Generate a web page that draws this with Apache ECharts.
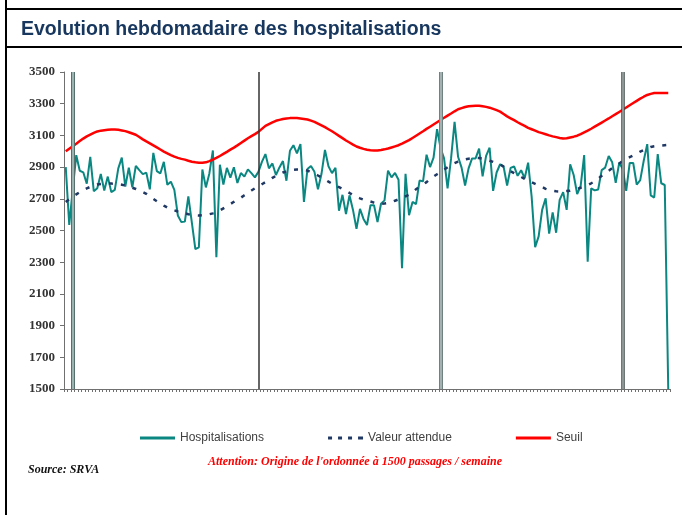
<!DOCTYPE html>
<html>
<head>
<meta charset="utf-8">
<script src="https://cdn.jsdelivr.net/npm/echarts@6/dist/echarts.min.js"></script>
<style>
  html, body { margin: 0; padding: 0; background: #fff; }
  #chart { width: 682px; height: 515px; }
</style>
</head>
<body>
<div id="chart"></div>
<script>
// Weekly values, first point = week 51 of 2008
var hospitalisations = [
  2900, 2535, 2760, 2975, 2877, 2867, 2795, 2965, 2748, 2767,
  2856, 2752, 2840, 2742, 2756, 2892, 2960, 2777, 2896, 2773,
  2908, 2881, 2856, 2865, 2760, 2990, 2875, 2860, 2933, 2788,
  2808, 2756, 2595, 2553, 2556, 2715, 2550, 2383, 2394, 2885,
  2772, 2860, 3005, 2332, 2915, 2790, 2895, 2834, 2899, 2800,
  2863, 2840, 2886, 2862, 2835, 2870, 2933, 2982, 2892, 2923,
  2850, 2898, 2938, 2814, 3003, 3038, 2986, 3045, 2680, 2888,
  2907, 2870, 2760, 2856, 3008, 2905, 2862, 2895, 2625, 2725,
  2604, 2722, 2630, 2510, 2636, 2573, 2535, 2660, 2660, 2554,
  2669, 2690, 2878, 2835, 2863, 2820, 2262, 2858, 2596, 2680,
  2667, 2815, 2810, 2978, 2900, 2960, 3140, 3020, 2955, 2766,
  2955, 3185, 2965, 2897, 2784, 2892, 2955, 2955, 3017, 2842,
  2971, 3022, 2750, 2866, 2918, 2902, 2784, 2895, 2904, 2845,
  2880, 2830, 2928, 2714, 2395, 2463, 2630, 2703, 2480, 2614,
  2486, 2693, 2742, 2630, 2918, 2850, 2730, 2782, 2976, 2303,
  2766, 2753, 2759, 2881, 2897, 2970, 2930, 2800, 2926, 2890,
  2750, 2926, 2926, 2790, 2818, 2940, 3045, 2722, 2708, 2982,
  2798, 2787, 1500
];

var valeurAttendue = [
  2680, 2697, 2714, 2728, 2742, 2755, 2766, 2775, 2783, 2790,
  2794, 2796, 2797, 2796, 2795, 2792, 2789, 2784, 2778, 2770,
  2762, 2752, 2742, 2731, 2716, 2700, 2685, 2670, 2657, 2645,
  2635, 2627, 2620, 2614, 2609, 2603, 2598, 2595, 2594, 2596,
  2599, 2603, 2608, 2614, 2627, 2640, 2653, 2667, 2681, 2694,
  2707, 2722, 2737, 2752, 2766, 2780, 2792, 2805, 2818, 2832,
  2845, 2856, 2866, 2872, 2878, 2883, 2885, 2885, 2884, 2878,
  2867, 2858, 2847, 2835, 2821, 2808, 2795, 2784, 2773, 2762,
  2750, 2737, 2723, 2712, 2703, 2695, 2689, 2683, 2676, 2670,
  2669, 2670, 2673, 2680, 2688, 2696, 2705, 2716, 2727, 2743,
  2760, 2776, 2790, 2805, 2825, 2840, 2855, 2868, 2884, 2899,
  2914, 2925, 2935, 2943, 2948, 2953, 2956, 2958, 2957, 2953,
  2947, 2940, 2933, 2925, 2917, 2903, 2888, 2874, 2862, 2850,
  2838, 2826, 2815, 2804, 2794, 2784, 2774, 2763, 2755, 2750,
  2747, 2746, 2747, 2749, 2751, 2757, 2763, 2770, 2777, 2787,
  2798, 2810, 2827, 2845, 2862, 2877, 2893, 2908, 2923, 2938,
  2952, 2963, 2974, 2986, 2998, 3008, 3018, 3027, 3031, 3034,
  3036, 3038, 3040
];

var seuil = [
  3000, 3016, 3032, 3048, 3064, 3080, 3094, 3105, 3116, 3125,
  3130, 3133, 3135, 3137, 3137, 3135, 3131, 3127, 3120, 3112,
  3104, 3090, 3075, 3062, 3050, 3037, 3024, 3011, 2998, 2987,
  2976, 2966, 2958, 2952, 2947, 2940, 2934, 2930, 2928, 2928,
  2930, 2938, 2947, 2958, 2970, 2983, 2996, 3010, 3023, 3037,
  3052, 3067, 3082, 3095, 3108, 3122, 3141, 3160, 3171, 3182,
  3192, 3198, 3203, 3207, 3209, 3210, 3210, 3207, 3204, 3200,
  3193, 3185, 3174, 3163, 3152, 3139, 3126, 3112, 3097, 3083,
  3068, 3055, 3042, 3030, 3022, 3015, 3010, 3007, 3005, 3005,
  3008, 3012, 3017, 3024, 3031, 3038, 3048, 3059, 3070, 3084,
  3098, 3112, 3126, 3141, 3155, 3169, 3183, 3197, 3211, 3225,
  3238, 3252, 3265, 3272, 3279, 3284, 3286, 3287, 3287, 3284,
  3280, 3275, 3267, 3259, 3250, 3235, 3220, 3208, 3196, 3183,
  3171, 3160, 3148, 3139, 3130, 3121, 3114, 3107, 3100, 3094,
  3089, 3084, 3080, 3082, 3087, 3092, 3098, 3108, 3119, 3130,
  3142, 3155, 3168, 3181, 3194, 3207, 3221, 3234, 3248, 3262,
  3276, 3290, 3304, 3318, 3332, 3344, 3355, 3362, 3367, 3368,
  3368, 3368, 3368
];

// Week 1 of each new year (index in the weekly series)
var yearStartIdx = [2, 55, 107, 159];
var weeksInYear = {2008: 52, 2009: 53, 2010: 52, 2011: 52, 2012: 52};

// Category labels S51-2008 ... (not shown on the axis)
var weeks = [];
var yr = 2008, wk = 51;
for (var i = 0; i < hospitalisations.length; i++) {
  weeks.push('S' + wk + '-' + yr);
  wk++;
  if (wk > weeksInYear[yr]) { wk = 1; yr++; }
}

var chart = echarts.init(document.getElementById('chart'));

chart.setOption({
  animation: false,
  title: [
    {
      text: 'Evolution hebdomadaire des hospitalisations',
      left: 21,
      top: 20,
      padding: 0,
      textStyle: {fontFamily: 'Liberation Sans', fontWeight: 'bold', fontSize: 19.5, color: '#17375e'}
    },
    {
      text: "Attention: Origine de l'ordonnée à 1500 passages / semaine",
      left: 208,
      top: 456,
      padding: 0,
      textStyle: {fontFamily: 'Liberation Serif', fontStyle: 'italic', fontWeight: 'bold', fontSize: 12, color: '#ff0000'}
    },
    {
      text: 'Source: SRVA',
      left: 28,
      top: 464,
      padding: 0,
      textStyle: {fontFamily: 'Liberation Serif', fontStyle: 'italic', fontWeight: 'bold', fontSize: 12, color: '#111'}
    }
  ],
  graphic: [
    {type: 'line', shape: {x1: 6, y1: 0, x2: 6, y2: 515}, style: {stroke: '#000', lineWidth: 2}},
    {type: 'line', shape: {x1: 6, y1: 9, x2: 682, y2: 9}, style: {stroke: '#000', lineWidth: 2}},
    {type: 'line', shape: {x1: 6, y1: 47, x2: 682, y2: 47}, style: {stroke: '#000', lineWidth: 2}}
  ],
  legend: {
    left: 140,
    top: 432,
    padding: 0,
    itemWidth: 35,
    itemHeight: 3,
    itemGap: 64,
    textStyle: {fontFamily: 'Liberation Sans', fontSize: 12, color: '#404040'},
    data: [
      {name: 'Hospitalisations', icon: 'rect', itemStyle: {color: '#0b8782'}},
      {name: 'Valeur attendue', icon: 'path://M0,0h4v3h-4z M10,0h4v3h-4z M20,0h4v3h-4z M30,0h4v3h-4z M34,0h1v3h-1z', itemStyle: {color: '#1f3864'}},
      {name: 'Seuil', icon: 'rect', itemStyle: {color: '#ff0000'}}
    ]
  },
  grid: {left: 64, right: 12, top: 72, bottom: 126},
  xAxis: {
    type: 'category',
    data: weeks,
    boundaryGap: true,
    axisLine: {lineStyle: {color: '#707070', width: 1}},
    axisTick: {show: true, interval: 0, length: 3, lineStyle: {color: '#707070'}},
    axisLabel: {show: false},
    splitLine: {show: false}
  },
  yAxis: {
    type: 'value',
    min: 1500,
    max: 3500,
    interval: 200,
    axisLine: {show: true, lineStyle: {color: '#707070'}},
    axisTick: {show: true, length: 4, lineStyle: {color: '#707070'}},
    axisLabel: {
      fontFamily: 'Liberation Serif', fontWeight: 'bold', fontSize: 13, color: '#333', margin: 9,
      formatter: function(v) { return String(v); }
    },
    splitLine: {show: false}
  },
  series: [
    {
      name: 'Hospitalisations',
      type: 'line',
      data: hospitalisations,
      symbol: 'none',
      lineStyle: {color: '#0b8782', width: 2},
      itemStyle: {color: '#0b8782'},
      z: 2,
      markLine: {
        silent: true,
        symbol: ['none', 'none'],
        label: {show: false},
        data: [
          {xAxis: yearStartIdx[0], lineStyle: {color: '#56706e', width: 4, type: 'solid'}},
          {xAxis: yearStartIdx[1], lineStyle: {color: '#333', width: 1.5, type: 'solid'}},
          {xAxis: yearStartIdx[2], lineStyle: {color: '#6f8280', width: 4, type: 'solid'}},
          {xAxis: yearStartIdx[3], lineStyle: {color: '#3f4a49', width: 3.5, type: 'solid'}}
        ]
      }
    },
    {
      name: 'Valeur attendue',
      type: 'line',
      data: valeurAttendue,
      symbol: 'none',
      lineStyle: {color: '#1f3864', width: 2.5, type: [4, 8]},
      itemStyle: {color: '#1f3864'},
      z: 3,
      markLine: {
        silent: true,
        symbol: ['none', 'none'],
        label: {show: false},
        data: [
          {xAxis: yearStartIdx[0], lineStyle: {color: '#9bb3b0', width: 2, type: 'solid'}},
          {xAxis: yearStartIdx[2], lineStyle: {color: '#a3b2b0', width: 2, type: 'solid'}},
          {xAxis: yearStartIdx[3], lineStyle: {color: '#a8b0af', width: 1.5, type: 'solid'}}
        ]
      }
    },
    {
      name: 'Seuil',
      type: 'line',
      data: seuil,
      symbol: 'none',
      lineStyle: {color: '#ff0000', width: 2.5},
      itemStyle: {color: '#ff0000'},
      z: 4
    }
  ]
});
</script>
</body>
</html>
